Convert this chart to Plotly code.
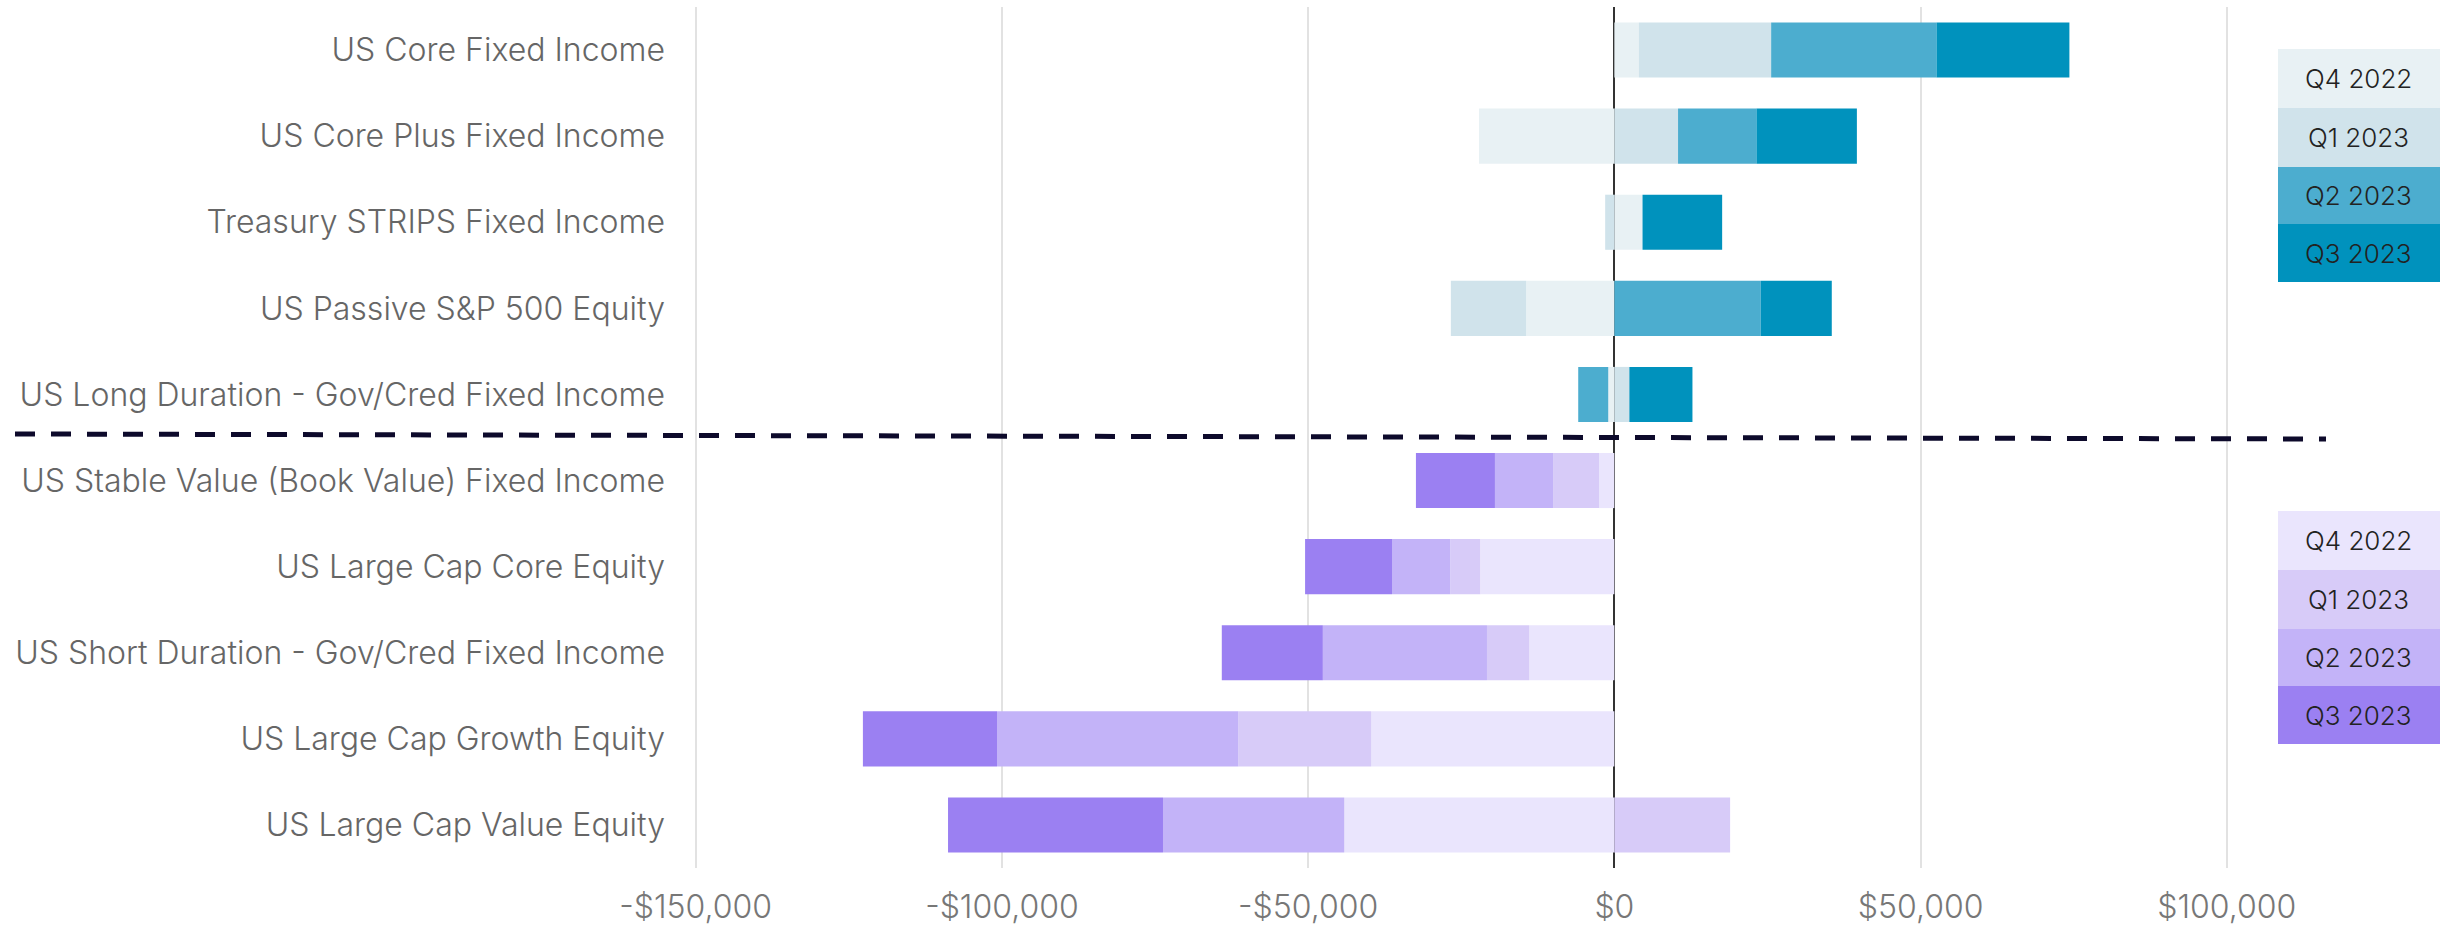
import plotly.graph_objects as go

categories = [
    "US Core Fixed Income",
    "US Core Plus Fixed Income",
    "Treasury STRIPS Fixed Income",
    "US Passive S&P 500 Equity",
    "US Long Duration - Gov/Cred Fixed Income",
    "US Stable Value (Book Value) Fixed Income",
    "US Large Cap Core Equity",
    "US Short Duration - Gov/Cred Fixed Income",
    "US Large Cap Growth Equity",
    "US Large Cap Value Equity",
]
quarters = ["Q4 2022", "Q1 2023", "Q2 2023", "Q3 2023"]

# Top group (blue), values per quarter for the first five categories
blue_q4_2022 = [4000, -22100, 4600, -14400, -1000]
blue_q1_2023 = [21600, 10400, -1500, -12300, 2450]
blue_q2_2023 = [27000, 12800, 0, 23900, -4900]
blue_q3_2023 = [21700, 16400, 13000, 11600, 10300]

# Bottom group (purple), values per quarter for the last five categories
purple_q4_2022 = [-2500, -21900, -13900, -39700, -44100]
purple_q1_2023 = [-7500, -4900, -6900, -21700, 18900]
purple_q2_2023 = [-9500, -9500, -26800, -39400, -29600]
purple_q3_2023 = [-12900, -14200, -16500, -21900, -35100]

x_ticks = [-150000, -100000, -50000, 0, 50000, 100000]
x_tick_labels = ["-$150,000", "-$100,000", "-$50,000", "$0", "$50,000", "$100,000"]

blue_colors = ["#e8f1f4", "#d0e3eb", "#4cadcf", "#0092bd"]
purple_colors = ["#eae5fd", "#d7cbf8", "#c3b3f8", "#9b80f2"]

blue_series = [blue_q4_2022, blue_q1_2023, blue_q2_2023, blue_q3_2023]
purple_series = [purple_q4_2022, purple_q1_2023, purple_q2_2023, purple_q3_2023]

FONT = "Inter"
fig = go.Figure()

top_cats = categories[:5]
bottom_cats = categories[5:]

for q, vals, col in zip(quarters, blue_series, blue_colors):
    fig.add_trace(go.Bar(
        y=top_cats, x=vals, orientation="h", name=q,
        marker=dict(color=col, line=dict(width=0)),
        showlegend=False,
    ))
for q, vals, col in zip(quarters, purple_series, purple_colors):
    fig.add_trace(go.Bar(
        y=bottom_cats, x=vals, orientation="h", name=q,
        marker=dict(color=col, line=dict(width=0)),
        showlegend=False,
    ))

W, H = 2440, 929
ML, MR, MT, MB = 680, 180, 7, 61
PW = W - ML - MR
PH = H - MT - MB


def px_x(px):
    return (px - ML) / PW


def px_y(py):
    return (H - MB - py) / PH


shapes = []
annotations = []

# Dashed separator between the two groups
shapes.append(dict(
    type="line", xref="paper", yref="paper",
    x0=px_x(15), x1=px_x(2326), y0=px_y(434), y1=px_y(439),
    line=dict(color="#0d0a2b", width=5, dash="20px,16px"),
    layer="above",
))

# Custom legend blocks
blue_box_edges = [49, 108, 167, 224, 282]
purple_box_edges = [511, 570, 629, 686, 744]
for edges, cols in ((blue_box_edges, blue_colors), (purple_box_edges, purple_colors)):
    for i, (q, col) in enumerate(zip(quarters, cols)):
        shapes.append(dict(
            type="rect", xref="paper", yref="paper",
            x0=px_x(2278), x1=px_x(2440),
            y0=px_y(edges[i + 1]), y1=px_y(edges[i]),
            fillcolor=col, line=dict(width=0), layer="above",
        ))
        annotations.append(dict(
            xref="paper", yref="paper",
            x=px_x(2358), y=px_y((edges[i] + edges[i + 1]) / 2),
            text=q, showarrow=False, xanchor="center", yanchor="middle",
            font=dict(family=FONT, size=26, color="#222222", weight=300),
        ))

fig.update_layout(
    barmode="relative",
    bargap=0.36,
    width=W, height=H,
    margin=dict(l=ML, r=MR, t=MT, b=MB, autoexpand=False),
    plot_bgcolor="white", paper_bgcolor="white",
    font=dict(family=FONT, weight=300),
    shapes=shapes,
    annotations=annotations,
    xaxis=dict(
        range=[-152564, 105421],
        tickvals=x_ticks, ticktext=x_tick_labels,
        showgrid=True, gridcolor="#e2e2e2", gridwidth=2,
        zeroline=True, zerolinecolor="#333333", zerolinewidth=1.5,
        tickfont=dict(family=FONT, size=32, color="#777777", weight=300),
        showline=False, ticks="", ticklabelstandoff=17,
    ),
    yaxis=dict(
        categoryorder="array", categoryarray=categories,
        autorange="reversed",
        showgrid=False, zeroline=False, showline=False, ticks="",
        tickfont=dict(family=FONT, size=32, color="#666666", weight=300),
        ticklabelstandoff=14,
    ),
)

fig.write_html(
    "out.html",
    config={"displayModeBar": False},
    post_script="document.body.style.margin='0';document.body.style.overflow='hidden';",
)
